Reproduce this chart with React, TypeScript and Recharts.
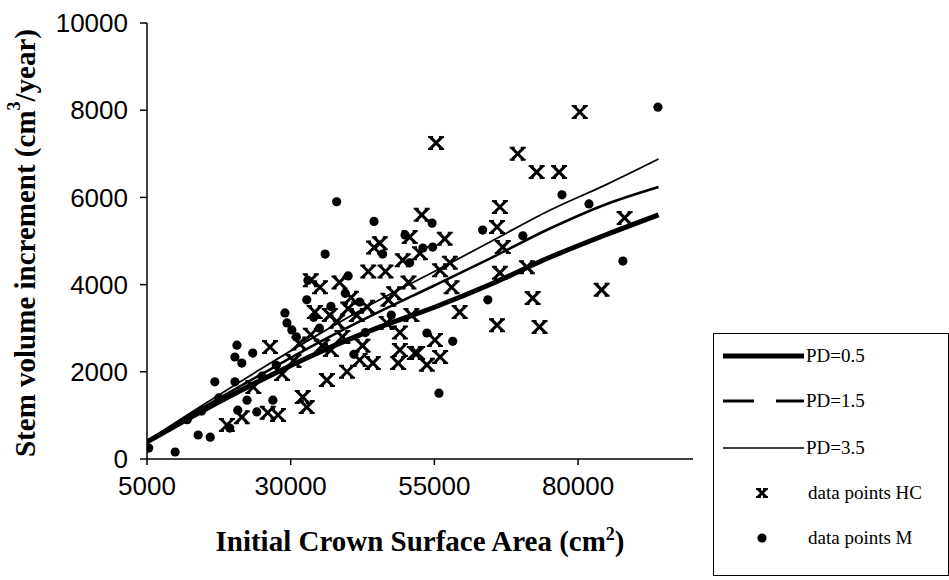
import React from 'react';
import { ComposedChart, Line, Scatter, XAxis, YAxis, Label } from 'recharts';

// model curves
const curveX = [5000, 15000, 25000, 35000, 45000, 55000, 65000, 75000, 85000, 94000];
const pd05 = [390, 1130, 1820, 2450, 3000, 3480, 4020, 4620, 5150, 5600];
const pd15 = [400, 1200, 1950, 2680, 3350, 3980, 4620, 5280, 5850, 6240];
const pd35 = [410, 1260, 2080, 2870, 3620, 4300, 5000, 5700, 6300, 6880];

// data points HC (crosses)
const hcPoints = [
  [18900, 780], [21500, 960], [26000, 1060], [27800, 1010], [26400, 2570], [32100, 1420],
  [32800, 1190], [34200, 3370], [36800, 3300], [36300, 1810], [39800, 2000], [42000, 2270],
  [44300, 2200], [48700, 2200], [49000, 2500], [46700, 3120], [51600, 2430], [43300, 3490],
  [35100, 3940], [33500, 4100], [38500, 4050], [44500, 4850], [45500, 4950], [46500, 4300],
  [40500, 3700], [41500, 3300], [39000, 2800], [37000, 2500], [42500, 2600], [48000, 3800],
  [43500, 4300], [50500, 4050], [49000, 2900], [55300, 7250], [69500, 7000], [72800, 6580],
  [76700, 6580], [80300, 7960], [66400, 5780], [52800, 5600], [65900, 5320], [88100, 5530],
  [50700, 5090], [56800, 5050], [52500, 4720], [49500, 4560], [66900, 4860], [56000, 4330],
  [84100, 3880], [72100, 3690], [59400, 3370], [65900, 3070], [73300, 3030], [55100, 2730],
  [52000, 2430], [56000, 2340], [53700, 2160], [58000, 3940], [57700, 4500], [66400, 4270],
  [71100, 4400], [28500, 1950], [30500, 2250], [31500, 2650], [33500, 2850], [35500, 2600],
  [38000, 3150], [40000, 3450], [23500, 1650], [47000, 3650], [51000, 3300],
];

// data points M (dots)
const mPoints = [
  [5300, 250], [9900, 160], [13900, 550], [16000, 500], [19400, 710], [20800, 1120],
  [24100, 1080], [22400, 1350], [26900, 1350], [16800, 1770], [20300, 1770], [20650, 2610],
  [20300, 2340], [21500, 2200], [23400, 2430], [29000, 3350], [29350, 3120], [30200, 2960],
  [32800, 3650], [38000, 5900], [44500, 5450], [36000, 4700], [33000, 4100], [40000, 4200],
  [46000, 4700], [42000, 3600], [35000, 3000], [43000, 2900], [47500, 3300], [41000, 2400],
  [49900, 5140], [50700, 4500], [53000, 4840], [54700, 4860], [54600, 5410], [63400, 5250],
  [70400, 5120], [77200, 6060], [81900, 5850], [93900, 8070], [87800, 4540], [64300, 3650],
  [58200, 2700], [53700, 2890], [55800, 1510], [12000, 900], [14500, 1100], [17500, 1400],
  [25000, 1900], [27500, 2150], [31000, 2800], [34000, 3250], [37000, 3500], [39500, 3800],
];

const xTicks = [5000, 30000, 55000, 80000];
const yTicks = [0, 2000, 4000, 6000, 8000, 10000];

const toCurve = (ys: number[]) => curveX.map((x, i) => ({ x, y: ys[i] }));
const toPoints = (pts: number[][]) => pts.map(([x, y]) => ({ x, y }));

const serif = '"Liberation Serif", "Times New Roman", serif';
const sans = '"Liberation Sans", Arial, sans-serif';

const CrossMark = (props: any) => {
  const { cx, cy } = props;
  const s = props.half || 6;
  if (cx == null || cy == null) return null;
  return (
    <g stroke="#000" fill="none">
      <path
        d={`M${cx - s},${cy - s}L${cx + s},${cy + s}M${cx - s},${cy + s}L${cx + s},${cy - s}`}
        strokeWidth={3}
      />
      <path
        d={`M${cx - s - 2},${cy - s}L${cx - s + 3},${cy - s}M${cx + s - 3},${cy - s}L${cx + s + 2},${cy - s}M${cx - s - 2},${cy + s}L${cx - s + 3},${cy + s}M${cx + s - 3},${cy + s}L${cx + s + 2},${cy + s}`}
        strokeWidth={2}
      />
    </g>
  );
};

const DotMark = (props: any) => {
  const { cx, cy } = props;
  if (cx == null || cy == null) return null;
  return <circle cx={cx} cy={cy} r={4.6} fill="#000" />;
};

const YTitle = (props: any) => {
  const vb = props.viewBox || {};
  const cy = vb.y + vb.height / 2 + 2;
  const cx = 25;
  return (
    <text
      transform={`rotate(-90 ${cx} ${cy})`}
      x={cx}
      y={cy}
      textAnchor="middle"
      dominantBaseline="central"
      fontFamily={serif}
      fontWeight="bold"
      fontSize={29}
      fill="#000"
    >
      Stem volume increment (cm<tspan dy={-11} fontSize={18}>3</tspan>
      <tspan dy={11}>/year)</tspan>
    </text>
  );
};

const XTitle = (props: any) => {
  const vb = props.viewBox || {};
  const cx = vb.x + vb.width / 2;
  return (
    <text x={cx} y={551} textAnchor="middle" fontFamily={serif} fontWeight="bold" fontSize={29} fill="#000">
      Initial Crown Surface Area (cm<tspan dy={-11} fontSize={18}>2</tspan>
      <tspan dy={11}>)</tspan>
    </text>
  );
};

const ChartLegend = () => (
  <div
    style={{
      position: 'absolute',
      left: 713,
      top: 333,
      width: 234,
      height: 241,
      border: '1px solid #000',
      background: '#fff',
    }}
  >
    <svg width={234} height={241}>
      <g fontFamily={serif} fontSize={19} fill="#000">
        <line x1={9} x2={90} y1={22} y2={22} stroke="#000" strokeWidth={5} />
        <text x={92} y={28}>PD=0.5</text>
        <line x1={9} x2={90} y1={67} y2={67} stroke="#000" strokeWidth={3} strokeDasharray="31 22" />
        <text x={92} y={73}>PD=1.5</text>
        <line x1={9} x2={90} y1={114} y2={114} stroke="#000" strokeWidth={1.6} />
        <text x={92} y={120}>PD=3.5</text>
        <CrossMark cx={48} cy={159} half={4} />
        <text x={94} y={165}>data points HC</text>
        <DotMark cx={48} cy={204} />
        <text x={94} y={210}>data points M</text>
      </g>
    </svg>
  </div>
);

const App: React.FC = () => {
  const tickStyle = { fontFamily: sans, fontSize: 26, fill: '#000' };
  return (
    <div style={{ position: 'absolute', left: 0, top: 0, width: 949, height: 580, background: '#fff' }}>
      <ComposedChart
        width={949}
        height={580}
        margin={{ top: 23, right: 256, bottom: 81, left: 47 }}
      >
        <XAxis
          type="number"
          dataKey="x"
          domain={[5000, 100000]}
          ticks={xTicks}
          allowDataOverflow
          stroke="#000"
          strokeWidth={1.5}
          tickSize={6}
          tickMargin={12}
          tick={tickStyle}
          height={40}
        >
          <Label content={<XTitle />} />
        </XAxis>
        <YAxis
          type="number"
          dataKey="y"
          domain={[0, 10000]}
          ticks={yTicks}
          allowDataOverflow
          stroke="#000"
          strokeWidth={1.5}
          tickSize={7}
          tickMargin={12}
          tick={tickStyle}
          width={100}
        >
          <Label content={<YTitle />} />
        </YAxis>
        <Scatter data={toPoints(hcPoints)} shape={<CrossMark />} isAnimationActive={false} />
        <Scatter data={toPoints(mPoints)} shape={<DotMark />} isAnimationActive={false} />
        <Line data={toCurve(pd05)} dataKey="y" type="monotone" stroke="#000" strokeWidth={5} dot={false} isAnimationActive={false} />
        <Line data={toCurve(pd15)} dataKey="y" type="monotone" stroke="#000" strokeWidth={2.6} dot={false} isAnimationActive={false} />
        <Line data={toCurve(pd35)} dataKey="y" type="monotone" stroke="#000" strokeWidth={1.8} dot={false} isAnimationActive={false} />
      </ComposedChart>
      <ChartLegend />
    </div>
  );
};

export default App;
